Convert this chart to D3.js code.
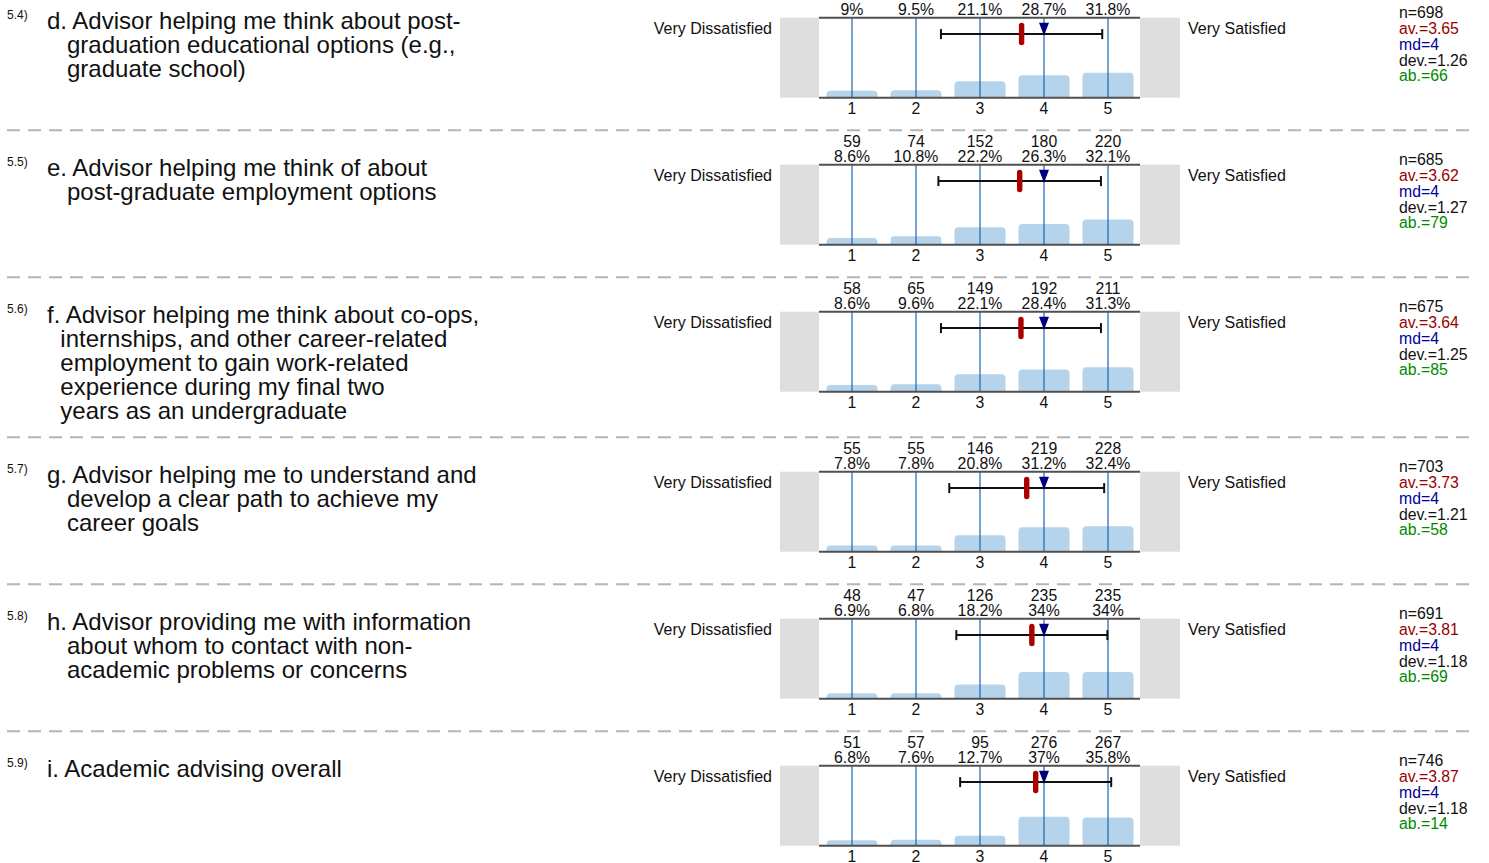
<!DOCTYPE html>
<html>
<head>
<meta charset="utf-8">
<script src="https://cdn.jsdelivr.net/npm/d3@7"></script>
<style>
  body { margin: 0; background: #fff; }
  svg text { font-family: "Liberation Sans", Arial, sans-serif; fill: #111; }
</style>
</head>
<body>
<div id="chart"></div>
<script>
// Survey items.
const itemIds = ["5.4)", "5.5)", "5.6)", "5.7)", "5.8)", "5.9)"];
const itemLetters = ["d.", "e.", "f.", "g.", "h.", "i."];
const itemLines = [
  ["Advisor helping me think about post-", "graduation educational options (e.g.,", "graduate school)"],
  ["Advisor helping me think of about", "post-graduate employment options"],
  ["Advisor helping me think about co-ops,", "internships, and other career-related", "employment to gain work-related", "experience during my final two", "years as an undergraduate"],
  ["Advisor helping me to understand and", "develop a clear path to achieve my", "career goals"],
  ["Advisor providing me with information", "about whom to contact with non-", "academic problems or concerns"],
  ["Academic advising overall"]
];

// Answer counts and percents per scale value 1..5.
const counts = [
  [63, 66, 147, 200, 222],
  [59, 74, 152, 180, 220],
  [58, 65, 149, 192, 211],
  [55, 55, 146, 219, 228],
  [48, 47, 126, 235, 235],
  [51, 57, 95, 276, 267]
];
const percents = [
  [9, 9.5, 21.1, 28.7, 31.8],
  [8.6, 10.8, 22.2, 26.3, 32.1],
  [8.6, 9.6, 22.1, 28.4, 31.3],
  [7.8, 7.8, 20.8, 31.2, 32.4],
  [6.9, 6.8, 18.2, 34, 34],
  [6.8, 7.6, 12.7, 37, 35.8]
];

// Summary statistics.
const nValues = [698, 685, 675, 703, 691, 746];
const avValues = [3.65, 3.62, 3.64, 3.73, 3.81, 3.87];
const mdValues = [4, 4, 4, 4, 4, 4];
const devValues = [1.26, 1.27, 1.25, 1.21, 1.18, 1.18];
const abValues = [66, 79, 85, 58, 69, 14];

const scaleTicks = [1, 2, 3, 4, 5];
const leftPole = "Very Dissatisfied";
const rightPole = "Very Satisfied";

// Layout.
const width = 1489;
const height = 863;
const plotLeft = 820;
const plotRight = 1140;
const plotHeight = 80;
const firstTop = 17.7;
const lineHeight = 24;

const svg = d3.select("#chart")
  .append("svg")
  .attr("width", width)
  .attr("height", height);

// x scale shared by every row: value 1..5 centred in 64px bands.
const xScale = d3.scaleLinear()
  .domain([0.5, 5.5])
  .range([plotLeft, plotRight]);
const barWidth = 51;

const yScale = d3.scaleLinear()
  .domain([0, 100])
  .range([plotHeight, 1.5]);

const fmtPct = (p) => `${+p.toFixed(1)}%`;

// Row tops depend on how many label lines each item has.
const rowTops = [];
let cursor = firstTop;
itemLines.forEach((lines) => {
  rowTops.push(cursor);
  cursor += Math.max(147, lines.length * lineHeight + 40);
});

function topRoundedBar(x, y, w, h, r) {
  r = Math.min(r, h, w / 2);
  return `M${x},${y + h}V${y + r}Q${x},${y} ${x + r},${y}H${x + w - r}Q${x + w},${y} ${x + w},${y + r}V${y + h}Z`;
}

itemIds.forEach((id, i) => {
  const top = rowTops[i];
  const g = svg.append("g").attr("transform", `translate(0,${top})`);

  // Separator above every row except the first.
  if (i > 0) {
    g.append("line")
      .attr("x1", 7).attr("x2", 1471)
      .attr("y1", -34.5).attr("y2", -34.5)
      .attr("stroke", "#b5b5b5")
      .attr("stroke-width", 2)
      .attr("stroke-dasharray", "13,8");
  }

  // Item label, continuation lines hang after the letter.
  g.append("text")
    .attr("x", 7).attr("y", 1)
    .style("font-size", "12px")
    .text(id);
  const first = g.append("text")
    .attr("x", 47).attr("y", 11.5)
    .style("font-size", "24px")
    .text(`${itemLetters[i]} `);
  const indent = 47 + first.node().getComputedTextLength();
  first.text(`${itemLetters[i]} ${itemLines[i][0]}`);
  itemLines[i].slice(1).forEach((line, k) => {
    g.append("text")
      .attr("x", indent).attr("y", 11.5 + (k + 1) * lineHeight)
      .style("font-size", "24px")
      .text(line);
  });

  // Pole labels and grey end boxes.
  g.append("text")
    .attr("x", 772).attr("y", 16.5)
    .attr("text-anchor", "end")
    .style("font-size", "16px")
    .text(leftPole);
  g.append("text")
    .attr("x", 1188).attr("y", 16.5)
    .style("font-size", "16px")
    .text(rightPole);
  g.append("rect")
    .attr("x", 780).attr("y", 0)
    .attr("width", plotLeft - 1 - 780).attr("height", plotHeight)
    .attr("fill", "#dedede");
  g.append("rect")
    .attr("x", plotRight).attr("y", 0)
    .attr("width", 1180 - plotRight).attr("height", plotHeight)
    .attr("fill", "#dedede");

  // Bars.
  g.selectAll("path.bar")
    .data(percents[i])
    .enter()
    .append("path")
    .attr("class", "bar")
    .attr("fill", "#b5d4ec")
    .attr("d", (p, k) => topRoundedBar(
      xScale(scaleTicks[k]) - barWidth / 2, yScale(p),
      barWidth, plotHeight - yScale(p), 4));

  // Vertical value lines.
  g.selectAll("line.tick")
    .data(scaleTicks)
    .enter()
    .append("line")
    .attr("class", "tick")
    .attr("x1", (d) => xScale(d)).attr("x2", (d) => xScale(d))
    .attr("y1", 0).attr("y2", plotHeight)
    .attr("stroke", "#1a64ae")
    .attr("stroke-width", 1.2);

  // Top and bottom frame lines.
  [0, plotHeight].forEach((y) => {
    g.append("line")
      .attr("x1", plotLeft - 1).attr("x2", plotRight)
      .attr("y1", y).attr("y2", y)
      .attr("stroke", "#505050")
      .attr("stroke-width", 2);
  });

  // Counts and percents above, tick values below.
  g.selectAll("text.count")
    .data(counts[i])
    .enter()
    .append("text")
    .attr("class", "count")
    .attr("x", (d, k) => xScale(scaleTicks[k]))
    .attr("y", -18)
    .attr("text-anchor", "middle")
    .style("font-size", "15.8px")
    .text((d) => d);
  g.selectAll("text.pct")
    .data(percents[i])
    .enter()
    .append("text")
    .attr("class", "pct")
    .attr("x", (d, k) => xScale(scaleTicks[k]))
    .attr("y", -2.5)
    .attr("text-anchor", "middle")
    .style("font-size", "15.8px")
    .text(fmtPct);
  g.selectAll("text.val")
    .data(scaleTicks)
    .enter()
    .append("text")
    .attr("class", "val")
    .attr("x", (d) => xScale(d))
    .attr("y", plotHeight + 16.5)
    .attr("text-anchor", "middle")
    .style("font-size", "15.8px")
    .text((d) => d);

  // Mean +/- deviation bar.
  const av = avValues[i];
  const dev = devValues[i];
  const eY = 16.4;
  const x0 = xScale(av - dev);
  const x1 = xScale(av + dev);
  g.append("line")
    .attr("x1", x0).attr("x2", x1)
    .attr("y1", eY).attr("y2", eY)
    .attr("stroke", "#111").attr("stroke-width", 2);
  [x0, x1].forEach((x) => {
    g.append("line")
      .attr("x1", x).attr("x2", x)
      .attr("y1", eY - 5).attr("y2", eY + 5)
      .attr("stroke", "#111").attr("stroke-width", 2);
  });

  // Median triangle.
  const xm = xScale(mdValues[i]);
  g.append("path")
    .attr("d", `M${xm - 5},5L${xm + 5},5L${xm},18Z`)
    .attr("fill", "#00007f");

  // Mean marker.
  g.append("rect")
    .attr("x", xScale(av) - 2.7).attr("y", 5)
    .attr("width", 5.4).attr("height", 22.5)
    .attr("rx", 2.7)
    .attr("fill", "#aa0000");

  // Statistics column.
  const stats = [
    [`n=${nValues[i]}`, "#111"],
    [`av.=${avValues[i].toFixed(2)}`, "#990000"],
    [`md=${mdValues[i]}`, "#000099"],
    [`dev.=${devValues[i].toFixed(2)}`, "#111"],
    [`ab.=${abValues[i]}`, "#008a00"]
  ];
  g.selectAll("text.stat")
    .data(stats)
    .enter()
    .append("text")
    .attr("class", "stat")
    .attr("x", 1399)
    .attr("y", (d, k) => 0.6 + k * 15.8)
    .style("font-size", "15.8px")
    .style("fill", (d) => d[1])
    .text((d) => d[0]);
});
</script>
</body>
</html>
